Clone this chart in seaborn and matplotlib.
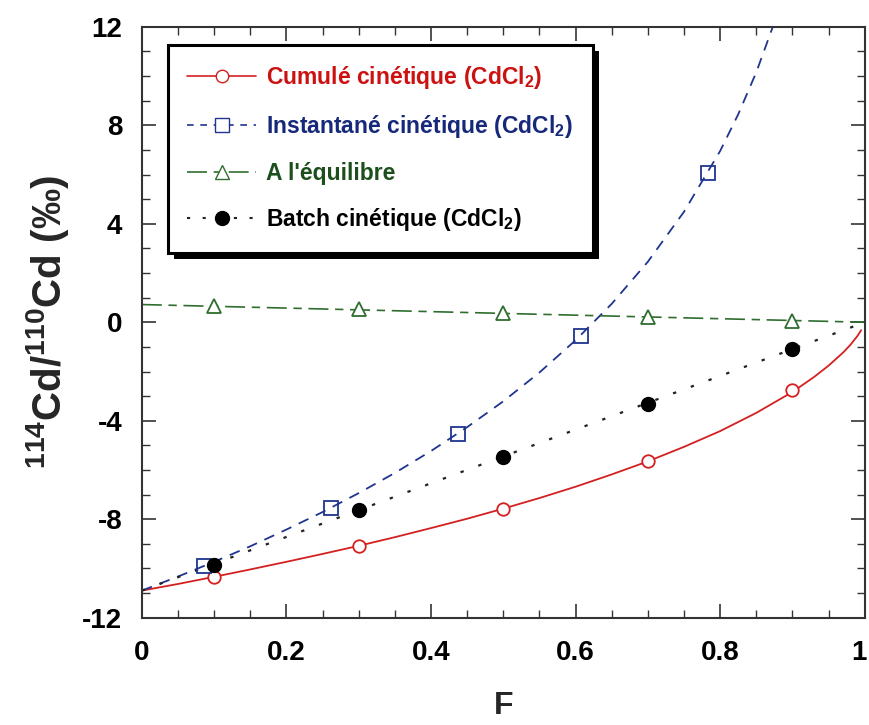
import numpy as np
import matplotlib
matplotlib.use("Agg")
import matplotlib.pyplot as plt
from matplotlib.lines import Line2D
from matplotlib.patches import Rectangle
from matplotlib.transforms import IdentityTransform, ScaledTranslation
from matplotlib.ticker import FixedLocator, FixedFormatter, MultipleLocator
import seaborn as sns

# --- data ---
# model curves (F = fraction of reaction)
F_inst = [0, 0.05, 0.1, 0.15, 0.2, 0.25, 0.3, 0.35, 0.4, 0.45, 0.5, 0.55,
          0.6, 0.65, 0.7, 0.75, 0.8, 0.825, 0.85, 0.875]
d_inst = [-10.9, -10.33, -9.73, -9.10, -8.42, -7.71, -6.94, -6.12, -5.23, -4.26,
          -3.21, -2.04, -0.73, 0.75, 2.46, 4.49, 6.96, 8.45, 10.16, 12.18]

F_cum = [0, 0.05, 0.1, 0.15, 0.2, 0.25, 0.3, 0.35, 0.4, 0.45, 0.5, 0.55, 0.6,
         0.65, 0.7, 0.75, 0.8, 0.85, 0.9, 0.93, 0.95, 0.97, 0.98, 0.99, 0.995]
d_cum = [-10.9, -10.63, -10.34, -10.04, -9.73, -9.41, -9.08, -8.73, -8.36, -7.98,
         -7.57, -7.14, -6.68, -6.18, -5.65, -5.06, -4.42, -3.68, -2.83, -2.22,
         -1.76, -1.23, -0.92, -0.55, -0.32]

F_batch = [0, 1]
d_batch = [-10.9, 0.0]

F_eq = [0, 1]
d_eq = [0.72, 0.0]

# markers
F_pts = [0.1, 0.3, 0.5, 0.7, 0.9]
cum_pts = [-10.35, -9.09, -7.57, -5.65, -2.76]
batch_pts = [-9.84, -7.64, -5.49, -3.31, -1.07]
eq_pts = [0.66, 0.53, 0.37, 0.23, 0.04]
F_sq = [0.086, 0.262, 0.438, 0.607, 0.783]
inst_pts = [-9.9, -7.56, -4.55, -0.56, 6.06]

labels = ["Cumulé cinétique (CdCl$_{\\mathbf{2}}$)",
          "Instantané cinétique (CdCl$_{\\mathbf{2}}$)",
          "A l'équilibre",
          "Batch cinétique (CdCl$_{\\mathbf{2}}$)"]
xticks = [0, 0.2, 0.4, 0.6, 0.8, 1]
xticklabels = ["0", "0.2", "0.4", "0.6", "0.8", "1"]
yticks = [-12, -8, -4, 0, 4, 8, 12]
yticklabels = ["-12", "-8", "-4", "0", "4", "8", "12"]

red = "#d42020"
blue = "#1f3590"
green = "#2f6e2f"
legend_colors = ["#cc1111", "#16287a", "#1d4f1d", "black"]

sns.set_theme(style="ticks")
plt.rcParams["font.family"] = ["Liberation Sans", "DejaVu Sans"]
plt.rcParams["font.weight"] = "bold"
plt.rcParams["mathtext.fontset"] = "custom"
plt.rcParams["mathtext.rm"] = "Liberation Sans:bold"
plt.rcParams["mathtext.bf"] = "Liberation Sans:bold"
plt.rcParams["mathtext.it"] = "Liberation Sans:bold"

fig = plt.figure(figsize=(8.7, 7.25), dpi=100)
ax = fig.add_axes([0.163, 0.148, 0.831, 0.815])

ls_inst = (0, (6, 4.5))
ls_eq = (0, (12, 4, 5, 4))
ls_batch = (0, (1.5, 7))

sns.lineplot(x=F_cum, y=d_cum, color=red, lw=1.3, sort=False, estimator=None, ax=ax)
sns.lineplot(x=F_inst, y=d_inst, color=blue, lw=1.3, linestyle=ls_inst,
             sort=False, estimator=None, ax=ax)
sns.lineplot(x=F_eq, y=d_eq, color=green, lw=1.2, linestyle=ls_eq,
             sort=False, estimator=None, ax=ax)
sns.lineplot(x=F_batch, y=d_batch, color="#222222", lw=1.6, linestyle=ls_batch,
             sort=False, estimator=None, ax=ax)

ax.plot(F_pts, cum_pts, "o", ms=9, mfc="white", mec=red, mew=1.3, zorder=5)
ax.plot(F_sq, inst_pts, "s", ms=10, mfc="none", mec=blue, mew=1.3, zorder=5)
ax.plot(F_pts, eq_pts, "^", ms=10, mfc="white", mec=green, mew=1.3, zorder=5)
ax.plot(F_pts, batch_pts, "o", ms=10, mfc="black", mec="black", zorder=5)

ax.set_xlim(0, 1)
ax.set_ylim(-12, 12)
ax.xaxis.set_major_locator(FixedLocator(xticks))
ax.xaxis.set_major_formatter(FixedFormatter(xticklabels))
ax.yaxis.set_major_locator(FixedLocator(yticks))
ax.yaxis.set_major_formatter(FixedFormatter(yticklabels))
ax.xaxis.set_minor_locator(MultipleLocator(0.05))
ax.yaxis.set_minor_locator(MultipleLocator(1))
ax.tick_params(which="both", direction="in", top=True, right=True,
               colors="#333333", labelcolor="black")
ax.tick_params(which="major", length=10, width=1.2, labelsize=20)
ax.tick_params(axis="x", which="major", pad=16)
ax.tick_params(axis="y", which="major", pad=14)
ax.tick_params(which="minor", length=6, width=1.0)
for s in ax.spines.values():
    s.set_linewidth(1.5)
    s.set_color("#333333")

ax.set_xlabel("F", fontsize=23, fontweight="bold", labelpad=18)
ax.set_ylabel("$^{\\mathbf{114}}$Cd/$^{\\mathbf{110}}$Cd (‰)", fontsize=29,
              fontweight="bold", labelpad=8)

handles = [
    Line2D([], [], color=red, lw=1.2, marker="o", ms=9, mfc="white", mec=red),
    Line2D([], [], color=blue, lw=1.2, linestyle=(0, (4, 4)), marker="s", ms=10,
           mfc="white", mec=blue),
    Line2D([], [], color=green, lw=1.2, linestyle=(0, (12, 4, 5, 4)), marker="^",
           ms=10, mfc="white", mec=green),
    Line2D([], [], color="#222222", lw=1.5, linestyle=(0, (1.5, 6)), marker="o",
           ms=10, mfc="black", mec="black"),
]
leg = ax.legend(handles, labels, loc="upper left", bbox_to_anchor=(0.036, 0.970),
                fontsize=16.5, labelcolor=legend_colors, frameon=True, fancybox=False,
                handlelength=3.0, labelspacing=0.95, borderpad=0.85,
                handletextpad=0.45, borderaxespad=0)
leg.set_zorder(10)
leg.get_frame().set_edgecolor("black")
leg.get_frame().set_linewidth(2.2)
leg.get_frame().set_facecolor("white")
leg.get_frame().set_alpha(1)

fig.canvas.draw()
# keep the "1" at the right end inside the canvas
last = ax.get_xticklabels()[-1]
last.set_transform(last.get_transform() + ScaledTranslation(-6 / 100, 0, fig.dpi_scale_trans))

# heavy drop shadow behind the legend box
bb = leg.get_frame().get_window_extent()
shadow = Rectangle((bb.x0 + 6, bb.y0 - 6), bb.width, bb.height, transform=IdentityTransform(),
                   facecolor="black", edgecolor="none", zorder=9)
ax.add_artist(shadow)

fig.savefig("out.png", dpi=100)
